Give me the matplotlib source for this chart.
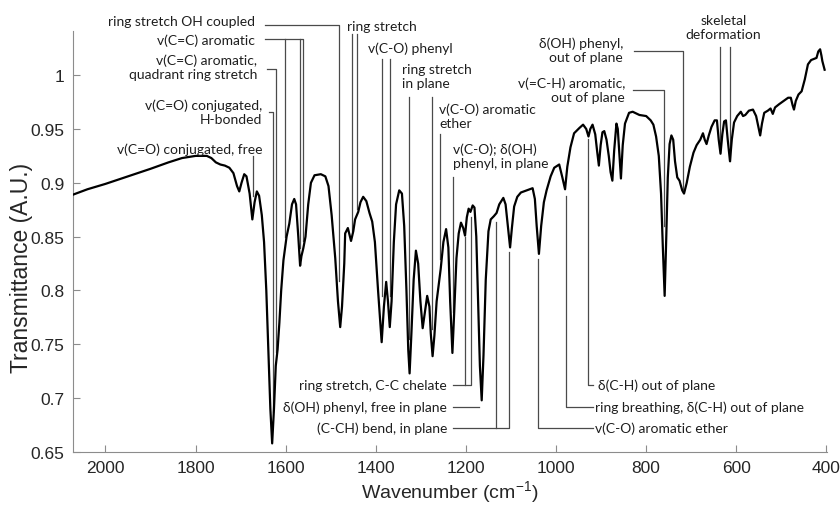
import numpy as np
import matplotlib

matplotlib.use("Agg")
import matplotlib.pyplot as plt
from matplotlib.ticker import FuncFormatter

# spectrum (wavenumber, transmittance)
wavenumber = [
    2072, 2040, 2000, 1950, 1900, 1860, 1830, 1800, 1775, 1765, 1755, 1745,
    1735, 1725, 1716, 1708, 1703, 1698, 1692, 1687, 1680, 1674, 1669, 1664,
    1659, 1653, 1648, 1643, 1638, 1634, 1630, 1626, 1622, 1618, 1614, 1610,
    1605, 1598, 1592, 1586, 1581, 1577, 1572, 1568, 1565, 1561, 1556, 1550,
    1544, 1536, 1522, 1512, 1505, 1498, 1490, 1484, 1479, 1475, 1470, 1468,
    1462, 1455, 1450, 1446, 1439, 1434, 1428, 1421, 1414, 1408, 1402, 1395,
    1387, 1382, 1377, 1373, 1369, 1365, 1360, 1355, 1348, 1342, 1337, 1332,
    1328, 1325, 1321, 1316, 1311, 1306, 1301, 1296, 1291, 1286, 1281, 1278,
    1274, 1270, 1265, 1261, 1256, 1250, 1244, 1239, 1235, 1230, 1226, 1221,
    1216, 1211, 1206, 1202, 1198, 1194, 1190, 1185, 1181, 1177, 1173, 1169,
    1165, 1161, 1156, 1150, 1145, 1138, 1132, 1126, 1117, 1112, 1107, 1102,
    1098, 1093, 1086, 1078, 1065, 1052, 1047, 1043, 1038, 1033, 1027, 1021,
    1012, 1004, 993, 986, 980, 975, 968, 960, 948, 940, 933, 928, 924, 919,
    913, 909, 905, 901, 897, 893, 888, 883, 879, 875, 871, 866, 863, 860,
    856, 852, 847, 838, 830, 815, 800, 790, 784, 778, 772, 767, 763, 759,
    756, 752, 748, 744, 740, 736, 731, 726, 720, 716, 710, 703, 695, 688,
    680, 674, 670, 666, 661, 655, 648, 643, 639, 635, 631, 627, 623, 619,
    614, 610, 605, 598, 590, 585, 580, 572, 563, 556, 550, 547, 543, 538,
    530, 524, 519, 514, 505, 495, 485, 479, 475, 472, 468, 462, 455, 448,
    441, 434, 428, 422, 418, 414, 411, 409, 406, 404,
]
transmittance = [
    0.889, 0.894, 0.899, 0.906, 0.913, 0.919, 0.923, 0.925, 0.925, 0.923, 0.919, 0.917,
    0.916, 0.914, 0.909, 0.897, 0.892, 0.900, 0.908, 0.906, 0.890, 0.866, 0.882, 0.892,
    0.888, 0.870, 0.845, 0.800, 0.740, 0.690, 0.658, 0.690, 0.730, 0.745, 0.770, 0.800,
    0.828, 0.850, 0.862, 0.880, 0.885, 0.880, 0.850, 0.823, 0.832, 0.839, 0.850, 0.880,
    0.900, 0.907, 0.908, 0.906, 0.897, 0.870, 0.830, 0.790, 0.766, 0.785, 0.825, 0.853,
    0.858, 0.846, 0.855, 0.866, 0.873, 0.882, 0.887, 0.883, 0.872, 0.864, 0.845, 0.800,
    0.752, 0.785, 0.808, 0.790, 0.766, 0.790, 0.845, 0.880, 0.893, 0.890, 0.860, 0.800,
    0.745, 0.723, 0.760, 0.810, 0.837, 0.825, 0.790, 0.765, 0.780, 0.795, 0.785, 0.760,
    0.739, 0.758, 0.790, 0.803, 0.820, 0.845, 0.857, 0.840, 0.790, 0.742, 0.780, 0.830,
    0.853, 0.863, 0.858, 0.851, 0.868, 0.876, 0.873, 0.879, 0.877, 0.850, 0.790, 0.730,
    0.698, 0.740, 0.810, 0.855, 0.866, 0.869, 0.872, 0.880, 0.886, 0.880, 0.860, 0.840,
    0.858, 0.878, 0.887, 0.891, 0.893, 0.895, 0.885, 0.860, 0.834, 0.860, 0.882, 0.893,
    0.906, 0.914, 0.917, 0.905, 0.894, 0.915, 0.933, 0.946, 0.951, 0.954, 0.950, 0.943, 0.950, 0.954,
    0.945, 0.930, 0.916, 0.935, 0.947, 0.948, 0.940, 0.925, 0.910, 0.902, 0.930, 0.955, 0.950, 0.930,
    0.904, 0.935, 0.955, 0.965, 0.966, 0.963, 0.962, 0.958, 0.954, 0.943, 0.925, 0.890, 0.840, 0.795,
    0.840, 0.905, 0.936, 0.944, 0.940, 0.920, 0.905, 0.902, 0.893, 0.890, 0.900, 0.915, 0.928, 0.935,
    0.940, 0.946, 0.940, 0.936, 0.944, 0.952, 0.958, 0.958, 0.940, 0.927, 0.945, 0.957, 0.958, 0.940,
    0.920, 0.940, 0.956, 0.962, 0.966, 0.962, 0.963, 0.967, 0.968, 0.962, 0.950, 0.944, 0.955, 0.965,
    0.967, 0.969, 0.964, 0.970, 0.973, 0.976, 0.979, 0.979, 0.972, 0.968, 0.976, 0.982, 0.985, 0.996,
    1.010, 1.014, 1.015, 1.016, 1.022, 1.024, 1.018, 1.013, 1.008, 1.005,
]

# labels: (text, x, y, ha)
top_labels = [
    ("ring stretch OH coupled", 1668, 1.050, "right"),
    ("v(C=C) aromatic", 1668, 1.0325, "right"),
    ("v(C=C) aromatic,\nquadrant ring stretch", 1663, 1.0074, "right"),
    ("v(C=O) conjugated,\nH-bonded", 1652, 0.9657, "right"),
    ("v(C=O) conjugated, free", 1652, 0.9314, "right"),
    ("ring stretch", 1463, 1.0455, "left"),
    ("v(C-O) phenyl", 1418, 1.025, "left"),
    ("ring stretch\nin plane", 1341, 0.999, "left"),
    ("v(C-O) aromatic\nether", 1260, 0.962, "left"),
    ("v(C-O); δ(OH)\nphenyl, in plane", 1229, 0.925, "left"),
    ("δ(OH) phenyl,\nout of plane", 851, 1.024, "right"),
    ("v(=C-H) aromatic,\nout of plane", 847, 0.9865, "right"),
    ("skeletal\ndeformation", 629, 1.0445, "center"),
]
bottom_labels = [
    ("ring stretch, C-C chelate", 1242, 0.7124, "right"),
    ("δ(OH) phenyl, free in plane", 1242, 0.692, "right"),
    ("(C-CH) bend, in plane", 1242, 0.6725, "right"),
    ("δ(C-H) out of plane", 907, 0.7124, "left"),
    ("ring breathing, δ(C-H) out of plane", 913, 0.692, "left"),
    ("v(C-O) aromatic ether", 913, 0.6725, "left"),
]

# leader lines as polylines (wavenumber, transmittance)
leaders = [
    [(1646, 1.047), (1481, 1.047), (1481, 0.809)],
    [(1646, 1.0334), (1561, 1.0334), (1561, 0.846)],
    [(1601, 1.0334), (1601, 0.850)],
    [(1568, 1.0334), (1568, 0.839)],
    [(1641, 1.0056), (1621, 1.0056), (1621, 0.743)],
    [(1637, 0.9657), (1629, 0.9657), (1629, 0.687)],
    [(1672, 0.9249), (1672, 0.8878)],
    [(1452, 1.038), (1452, 0.855)],
    [(1441, 1.038), (1441, 0.876)],
    [(1386, 1.0148), (1386, 0.795)],
    [(1368, 1.0148), (1368, 0.795)],
    [(1326, 0.9796), (1326, 0.755)],
    [(1275, 0.9796), (1275, 0.764)],
    [(1257, 0.9453), (1257, 0.829)],
    [(1228, 0.9054), (1228, 0.780)],
    [(827, 1.0223), (719, 1.0223), (719, 0.8942)],
    [(829, 0.9861), (761, 0.9861), (761, 0.860)],
    [(636, 1.026), (636, 0.9286)],
    [(615, 1.026), (615, 0.920)],
    [(1229, 0.7124), (1189, 0.7124), (1189, 0.868)],
    [(1202, 0.7124), (1202, 0.8497)],
    [(1229, 0.692), (1170, 0.692)],
    [(1229, 0.6725), (1105, 0.6725), (1105, 0.8358)],
    [(1134, 0.6725), (1134, 0.8636)],
    [(928, 0.9406), (928, 0.7124), (918, 0.7124)],
    [(979, 0.8878), (979, 0.692), (918, 0.692)],
    [(1040, 0.8293), (1040, 0.6725), (918, 0.6725)],
]

plt.rcParams["mathtext.fontset"] = "custom"
plt.rcParams["mathtext.rm"] = "Liberation Sans"
plt.rcParams["mathtext.it"] = "Liberation Sans"

fig = plt.figure(figsize=(8.4, 5.06), dpi=100)
ax = fig.add_axes([0.0869, 0.1047, 0.898, 0.8321])

ax.plot(wavenumber, transmittance, color="black", lw=1.6, zorder=3)

for path in leaders:
    xs, ys = zip(*path)
    ax.plot(xs, ys, color="#4a4a4a", lw=0.9, clip_on=False, zorder=2)

for text, x, y, ha in top_labels + bottom_labels:
    ax.text(x, y, text, ha=ha, va="center", fontsize=10, family="Lato",
            color="#1e1e1e", linespacing=1.2, clip_on=False)

ax.set_xlim(2072, 398)
ax.set_ylim(0.65, 1.041)
ax.set_xticks([2000, 1800, 1600, 1400, 1200, 1000, 800, 600, 400])
ax.set_yticks(np.arange(0.65, 1.001, 0.05))
ax.yaxis.set_major_formatter(FuncFormatter(lambda v, p: f"{v:g}"))

for side in ["top", "right"]:
    ax.spines[side].set_visible(False)
for side in ["left", "bottom"]:
    ax.spines[side].set_color("#8c8c8c")
    ax.spines[side].set_linewidth(0.8)
ax.tick_params(direction="in", length=5, width=0.8, color="#8c8c8c",
               labelsize=12.5, labelcolor="#262626", pad=6)
for lab in ax.get_xticklabels() + ax.get_yticklabels():
    lab.set_family("Liberation Sans")

xl = ax.set_xlabel("Wavenumber (cm$^{-1}$)", fontsize=14, family="Liberation Sans",
                   color="#262626", va="bottom")
ax.xaxis.set_label_coords(0.5, -0.1235)
ax.set_ylabel("Transmittance (A.U.)", fontsize=16.5, family="Liberation Sans",
              color="#262626")
ax.yaxis.set_label_coords(-0.053, 0.44)

fig.savefig("out.png", dpi=100)
